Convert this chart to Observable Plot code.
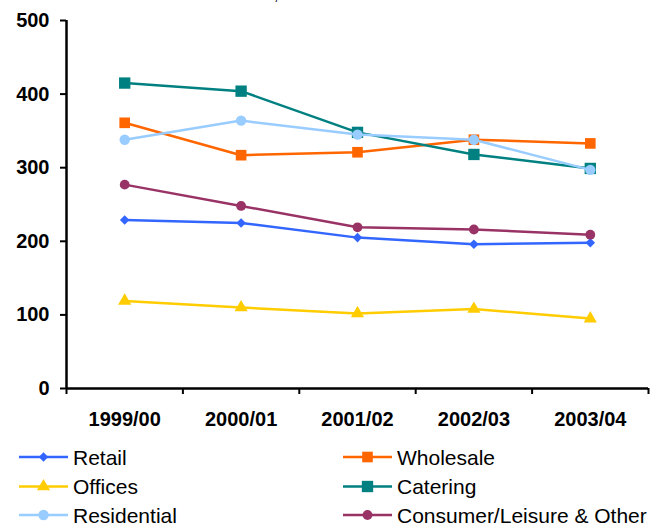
<!DOCTYPE html>
<html><head><meta charset="utf-8">
<script src="https://cdn.jsdelivr.net/npm/d3@7"></script>
<script src="https://cdn.jsdelivr.net/npm/@observablehq/plot@0.6"></script>
<style>
body{margin:0;background:#fff;font-family:"Liberation Sans",Arial,sans-serif;}
#wrap{position:relative;width:664px;height:526px;overflow:hidden;}
#comma{position:absolute;left:274px;top:-13px;font-size:16px;line-height:16px;color:#000;}
</style></head><body>
<div id="wrap"><div id="comma">,</div><div id="chart"></div><div id="legend"></div></div>
<script>
const years = ["1999/00","2000/01","2001/02","2002/03","2003/04"];
const seriesNames = ["Retail","Wholesale","Offices","Catering","Residential","Consumer/Leisure & Other"];
const retail = [229, 225, 205, 196, 198];
const wholesale = [361, 317, 321, 338, 333];
const offices = [119, 110, 102, 108, 95];
const catering = [415, 404, 348, 318, 299];
const residential = [338, 364, 345, 338, 297];
const consumer = [277, 248, 219, 216, 209];
const yTicks = [0, 100, 200, 300, 400, 500];

const colors = ["#3366FF","#FF6600","#FFCC00","#008080","#99CCFF","#993366"];
const symbols = ["diamond2","square","triangle","square","circle","circle"];
const radii = [4.3, 6.0, 4.9, 6.4, 5.2, 4.9];
const values = [retail, wholesale, offices, catering, residential, consumer];

const data = [];
seriesNames.forEach((s, k) => values[k].forEach((v, i) => data.push({series: s, k, i, v})));

const marks = [];
seriesNames.forEach((s, k) => {
  const d = data.filter(r => r.k === k);
  marks.push(Plot.line(d, {x: "i", y: "v", stroke: colors[k], strokeWidth: 2.5}));
  marks.push(Plot.dot(d, {x: "i", y: "v", symbol: () => symbols[k], r: radii[k], fill: colors[k], stroke: "none"}));
});

const chart = Plot.plot({
  width: 664, height: 440,
  marginLeft: 66, marginRight: 16, marginTop: 20, marginBottom: 52,
  style: {fontFamily: '"Liberation Sans", Arial, sans-serif', background: "#fff", overflow: "visible"},
  x: {type: "linear", domain: [-0.5, 4.5], axis: null},
  y: {domain: [0, 500], axis: null},
  symbol: {type: "ordinal", domain: ["diamond2","square","triangle","circle"], range: ["diamond2","square","triangle","circle"]},
  marks: [
    Plot.ruleY([0], {stroke: "#000", strokeWidth: 2.5}),
    Plot.ruleX([-0.5], {stroke: "#000", strokeWidth: 2.5}),
    Plot.axisY(yTicks, {tickSize: 6, tickPadding: 11, fontSize: 20, fontWeight: "bold", stroke: "#000", strokeWidth: 2, fill: "#000", label: null}),
    Plot.axisX([-0.5, 0.5, 1.5, 2.5, 3.5, 4.5], {tickSize: 6, tickFormat: () => "", stroke: "#000", strokeWidth: 2, label: null}),
    Plot.axisX([0,1,2,3,4], {tickSize: 0, tickPadding: 23, tickFormat: i => years[i], fontSize: 20, fontWeight: "bold", fill: "#000", label: null}),
    ...marks
  ]
});
document.getElementById("chart").appendChild(chart);

// legend
const lg = d3.select("#legend").append("svg").attr("width", 664).attr("height", 86)
  .style("display", "block");
const cols = [{x0: 19, x1: 68, tx: 73}, {x0: 343, x1: 392, tx: 397}];
const rowsY = [17, 46.5, 75];
const symMap = {diamond2: d3.symbolDiamond2, square: d3.symbolSquare, triangle: d3.symbolTriangle, circle: d3.symbolCircle};
seriesNames.forEach((s, k) => {
  const c = cols[k % 2], y = rowsY[Math.floor(k / 2)];
  const g = lg.append("g");
  g.append("line").attr("x1", c.x0).attr("x2", c.x1).attr("y1", y).attr("y2", y)
    .attr("stroke", colors[k]).attr("stroke-width", 2.5);
  g.append("path").attr("transform", `translate(${(c.x0 + c.x1) / 2},${y})`)
    .attr("d", d3.symbol(symMap[symbols[k]], Math.PI * radii[k] * radii[k])())
    .attr("fill", colors[k]);
  g.append("text").attr("x", c.tx).attr("y", y).attr("dy", "0.36em")
    .attr("font-size", 21).attr("font-family", '"Liberation Sans", Arial, sans-serif')
    .attr("fill", "#000").text(s);
});
</script>
</body></html>
